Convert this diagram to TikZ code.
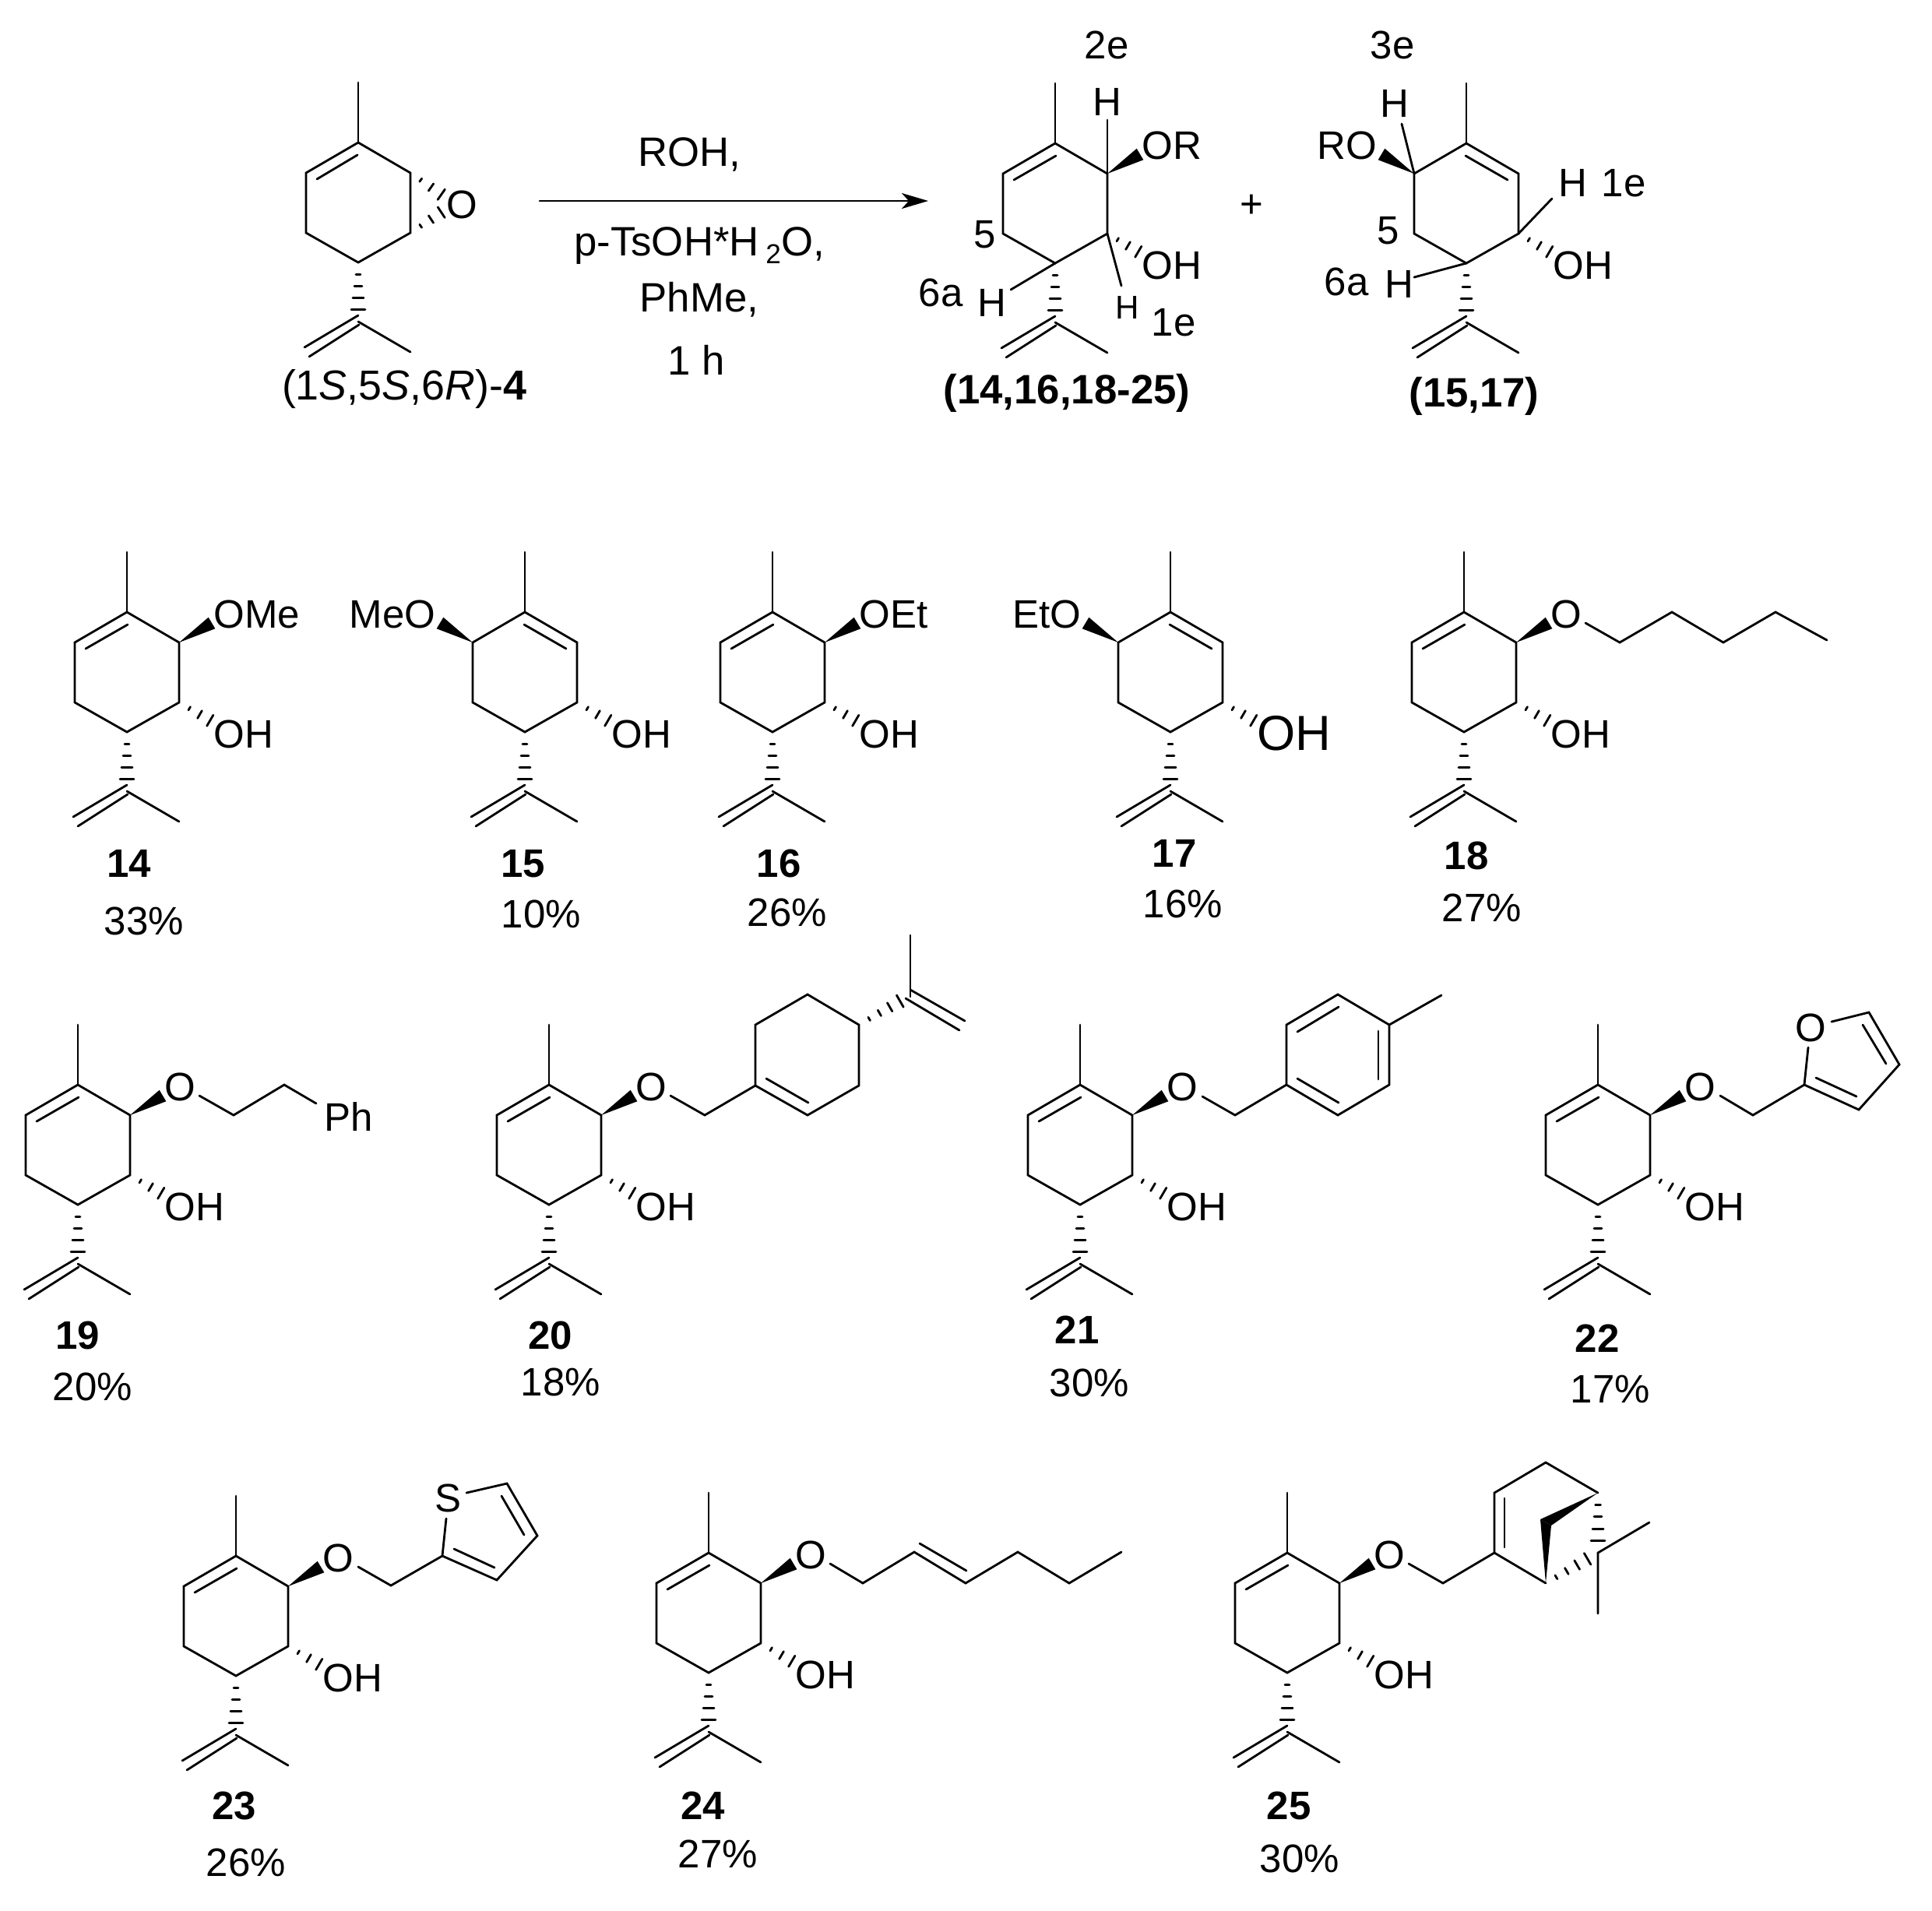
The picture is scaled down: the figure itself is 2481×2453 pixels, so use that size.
\documentclass[tikz,border=0pt]{standalone}
\usepackage{fontspec}
\setmainfont{Liberation Sans}
\usepackage{tikz}
\usetikzlibrary{calc,arrows.meta}
\tikzset{
  bond/.style={line width=.8pt, line cap=round, line join=miter},
  txt/.style={inner sep=0pt, anchor=base, font=\fontsize{14.5pt}{17pt}\selectfont},
  cond/.style={txt, font=\fontsize{15pt}{17pt}\selectfont},
  atom/.style={txt, anchor=base west},
  atomr/.style={txt, anchor=base east},
  cmpd/.style={txt, font=\fontsize{14.5pt}{17pt}\selectfont\bfseries},
}
\def\hashfour{.2/.85,.4/1.42,.6/2,.8/2.56}
\def\hashthree{.25/.7,.5/1.6,.75/2.3}
\def\hashbond#1#2#3{
  \foreach \t/\w in #3
    \draw[bond] ($#1!\t!#2!\w pt!90:#2$) -- ($#1!\t!#2!\w pt!-90:#2$);
}
\def\wedgebond#1#2{
  \fill #1 -- ($#2!2.4pt!90:#1$) -- ($#2!2.4pt!-90:#1$) -- cycle;
}
% ring, methyl and isopropenyl
\def\ringbase{
    \coordinate (me) at (0,-77);
    \coordinate (c1) at (0,0);
    \coordinate (c2) at (67,39);
    \coordinate (c3) at (67,116);
    \coordinate (c4) at (0,154);
    \coordinate (c5) at (-67,116);
    \coordinate (c6) at (-67,39);
    \coordinate (ip) at (0,230);
    \draw[bond] (me) -- (c1);
    \draw[bond] (c1) -- (c2) -- (c3) -- (c4) -- (c5) -- (c6) -- cycle;
    \hashbond{(c4)}{(ip)}{\hashfour};
    \draw[bond] (ip) -- (67,269);
    \draw[bond] (0,222) -- (-69,263);
    \draw[bond] (1,234) -- (-63,275);
}
\def\carvA#1#2#3{
\begin{scope}[shift={#1}]
    \ringbase
    \draw[bond] (1,16) -- (-53,47);
    \wedgebond{(c2)}{(109,14)};
    \hashbond{(c3)}{(120,147)}{\hashthree};
    \node[atom] (#2or) at (111,20) {#3};
    \node[atom] (#2oh) at (111,174) {OH};
\end{scope}
}
\def\carvB#1#2#3#4{
\begin{scope}[shift={#1}]
    \ringbase
    \draw[bond] (-1,16) -- (53,47);
    \wedgebond{(c6)}{(-109,14)};
    \hashbond{(c3)}{(120,147)}{\hashthree};
    \node[atomr] (#2or) at (-114,20) {#3};
    \node[atom,#4] (#2oh) at (111,174) {OH};
\end{scope}
}
\begin{document}
\begin{tikzpicture}[x=.01cm,y=-.01cm]
    \useasboundingbox (0,0) rectangle (2481,2453);

    % starting epoxide
    \begin{scope}[shift={(460,183)}]
        \ringbase
        \draw[bond] (-1,16) -- (-53,47);
        \hashbond{(c2)}{(120,76)}{\hashthree};
        \hashbond{(c3)}{(120,81)}{\hashthree};
        \node[atom] (epo) at (113,97) {O};
    \end{scope}
    \node[cond,font=\fontsize{15.3pt}{17pt}\selectfont] (sm) at (519,513) {(1\textit{S},5\textit{S},6\textit{R})-\textbf{4}};

    % reaction arrow
    \coordinate (arrs) at (693,258);
    \coordinate (arre) at (1192,258);
    \draw[bond,-{Stealth[length=.34cm,width=.2cm,inset=.09cm]}] (arrs) -- (arre);
    \node[cond] (cond1) at (885,213) {ROH,};
    \node[cond] (cond2) at (898,328) {p-TsOH*H\,\raisebox{-3pt}{\fontsize{10pt}{10pt}\selectfont 2}O,};
    \node[cond] (cond3) at (898,400) {PhMe,};
    \node[cond] (cond4) at (894,481) {1 h};

    % products
    \carvA{(1355,184)}{pa}{OR}
    \coordinate (pah) at (1422,154);
    \coordinate (paca) at (1422,223);
    \draw[bond] (paca) -- (pah);
    \node[txt] (paH) at (1422,148) {H};
    \node[txt] (pa2e) at (1421,75) {2e};
    \node[txt] (pa5) at (1265,318) {5};
    \node[atom] (pa6a) at (1179,393) {6a};
    \node[atom] (paH6) at (1255,406) {H};
    \draw[bond] (1355,338) -- (1298,372);
    \draw[bond] (1422,300) -- (1440,367);
    \node[atom,font=\fontsize{12pt}{14pt}\selectfont] (paH1) at (1432,409) {H};
    \node[atom] (pa1e) at (1478,431) {1e};
    \node[cond,font=\fontsize{15pt}{17pt}\selectfont\bfseries] (palab) at (1370,518) {(14,16,18-25)};
    \node[txt] (plus) at (1607,279) {+};

    \carvB{(1883,184)}{pb}{RO}{}
    \draw[bond] (1816,223) -- (1800,159);
    \node[txt] (pbH) at (1791,150) {H};
    \node[txt] (pb3e) at (1788,75) {3e};
    \node[txt] (pb5) at (1783,313) {5};
    \node[atom] (pb6a) at (1700,379) {6a};
    \node[atom] (pbH6) at (1778,382) {H};
    \draw[bond] (1883,338) -- (1816,356);
    \draw[bond] (1950,300) -- (1993,255);
    \node[atom] (pbH1) at (2001,252) {H};
    \node[atom] (pb1e) at (2056,252) {1e};
    \node[cond,font=\fontsize{15pt}{17pt}\selectfont\bfseries] (pblab) at (1893,522) {(15,17)};

    % first row
    \carvA{(163,786)}{a}{OMe}
    \node[cmpd] (n14) at (166,1126) {14};
    \node[txt] (y14) at (185,1200) {33\%};
    \carvB{(674,786)}{b}{MeO}{}
    \node[cmpd] (n15) at (672,1126) {15};
    \node[txt] (y15) at (695,1191) {10\%};
    \carvA{(992,786)}{c}{OEt}
    \node[cmpd] (n16) at (1000,1126) {16};
    \node[txt] (y16) at (1011,1189) {26\%};
    \carvB{(1503,786)}{d}{EtO}{font=\fontsize{18pt}{20pt}\selectfont,yshift=-.03cm}
    \node[cmpd] (n17) at (1508,1113) {17};
    \node[txt] (y17) at (1519,1178) {16\%};
    \carvA{(1880,786)}{e}{O}
    \draw[bond] (2036,800) -- (2080,825) -- (2147,786) -- (2213,825) -- (2280,786) -- (2346,822);
    \node[cmpd] (n18) at (1883,1116) {18};
    \node[txt] (y18) at (1903,1183) {27\%};

    % second row
    \carvA{(100,1393)}{f}{O}
    \draw[bond] (256,1407) -- (300,1432) -- (365,1393) -- (406,1417);
    \node[atom] (fph) at (416,1452) {Ph};
    \node[cmpd] (n19) at (100,1732) {19};
    \node[txt] (y19) at (119,1798) {20\%};

    \carvA{(705,1393)}{g}{O}
    \draw[bond] (861,1407) -- (905,1432) -- (970,1394);
    \draw[bond] (970,1394) -- (970,1316) -- (1037,1277) -- (1103,1316) -- (1103,1394) -- (1037,1432) -- cycle;
    \draw[bond] (984,1385) -- (1038,1416);
    \coordinate (gc) at (1103,1316);
    \coordinate (gip) at (1169,1278);
    \hashbond{(gc)}{(gip)}{{.2/.7,.4/1.2,.6/1.8,.8/2.5}};
    \draw[bond] (1169,1201) -- (1169,1280);
    \draw[bond] (1169,1271) -- (1239,1311);
    \draw[bond] (1163,1282) -- (1232,1323);
    \node[cmpd] (n20) at (707,1732) {20};
    \node[txt] (y20) at (720,1792) {18\%};

    \carvA{(1387,1393)}{h}{O}
    \draw[bond] (1544,1408) -- (1586,1432) -- (1652,1393);
    \draw[bond] (1652,1393) -- (1652,1316) -- (1718,1277) -- (1784,1316) -- (1784,1393) -- (1718,1432) -- cycle;
    \draw[bond] (1784,1316) -- (1851,1278);
    \draw[bond] (1666,1325) -- (1719,1293);
    \draw[bond] (1770,1324) -- (1770,1386);
    \draw[bond] (1666,1385) -- (1719,1416);
    \node[cmpd] (n21) at (1383,1725) {21};
    \node[txt] (y21) at (1399,1793) {30\%};

    \carvA{(2052,1393)}{i}{O}
    \draw[bond] (2209,1407) -- (2251,1432) -- (2317,1393) -- (2322,1345);
    \node[txt] (iox) at (2325,1337) {O};
    \draw[bond] (2352,1312) -- (2400,1300) -- (2439,1367) -- (2387,1425) -- (2317,1393);
    \draw[bond] (2392,1316) -- (2422,1366);
    \draw[bond] (2332,1384) -- (2384,1408);
    \node[cmpd] (n22) at (2051,1736) {22};
    \node[txt] (y22) at (2068,1801) {17\%};

    % third row
    \carvA{(303,1998)}{j}{O}
    \draw[bond] (460,2012) -- (502,2036) -- (568,1998) -- (573,1950);
    \node[txt] (jsu) at (576,1941) {S};
    \draw[bond] (599,1917) -- (651,1905) -- (690,1972) -- (638,2029) -- (568,1998);
    \draw[bond] (644,1921) -- (673,1971);
    \draw[bond] (583,1989) -- (635,2013);
    \node[cmpd] (n23) at (301,2336) {23};
    \node[txt] (y23) at (316,2409) {26\%};

    \carvA{(910,1994)}{k}{O}
    \draw[bond] (1066,2008) -- (1108,2033) -- (1174,1993) -- (1240,2033) -- (1307,1993) -- (1373,2033) -- (1440,1993);
    \draw[bond] (1181,1982) -- (1241,2017);
    \node[cmpd] (n24) at (903,2336) {24};
    \node[txt] (y24) at (922,2398) {27\%};

    \carvA{(1653,1994)}{l}{O}
    \draw[bond] (1809,2008) -- (1853,2033) -- (1919,1994) -- (1919,1917) -- (1985,1878) -- (2052,1917);
    \draw[bond] (1919,1994) -- (1985,2033);
    \draw[bond] (1932,1924) -- (1932,1987);
    \coordinate (lbr) at (2052,1917);
    \coordinate (lbot) at (1985,2033);
    \coordinate (lcm) at (2052,1994);
    \fill (lbr) -- (1978,1951) -- (1992,1959) -- cycle;
    \fill (lbot) -- (1978,1951) -- (1992,1959) -- cycle;
    \hashbond{(lbr)}{(lcm)}{{.2/.95,.4/1.42,.6/2,.8/2.56}};
    \hashbond{(lbot)}{(lcm)}{{.2/.8,.4/1.3,.6/1.9,.8/2.4}};
    \draw[bond] (2118,1955) -- (lcm) -- (2052,2072);
    \node[cmpd] (n25) at (1655,2336) {25};
    \node[txt] (y25) at (1669,2404) {30\%};
\end{tikzpicture}
\end{document}
